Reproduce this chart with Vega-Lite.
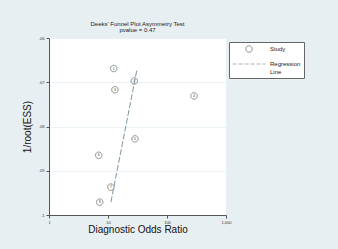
{
  "$schema": "https://vega.github.io/schema/vega-lite/v6.json",
  "width": 177,
  "height": 177,
  "autosize": {"type": "none"},
  "padding": {"left": 49, "top": 38, "right": 112, "bottom": 34},
  "background": "#e8eff2",
  "config": {
    "font": "Liberation Sans",
    "view": {"fill": "white", "stroke": null}
  },
  "title": {
    "text": ["Deeks' Funnel Plot Asymmetry Test", "pvalue =  0.47"],
    "fontSize": 6,
    "fontWeight": "normal",
    "color": "#222",
    "anchor": "middle",
    "offset": 3,
    "lineHeight": 6
  },
  "layer": [
    {
      "data": {"values": [
        {"dor": 12.5, "ess": 0.0669, "study": "Study", "id": "1"},
        {"dor": 27.9, "ess": 0.0697, "study": "Study", "id": "2"},
        {"dor": 13.1, "ess": 0.0717, "study": "Study", "id": "3"},
        {"dor": 287, "ess": 0.0731, "study": "Study", "id": "4"},
        {"dor": 28.7, "ess": 0.0828, "study": "Study", "id": "5"},
        {"dor": 6.96, "ess": 0.0865, "study": "Study", "id": "6"},
        {"dor": 11.2, "ess": 0.0937, "study": "Study", "id": "7"},
        {"dor": 7.23, "ess": 0.0971, "study": "Study", "id": "8"}
      ]},
      "layer": [
        {
          "mark": {"type": "point", "filled": false, "strokeWidth": 0.9},
          "encoding": {
            "x": {
              "field": "dor", "type": "quantitative",
              "scale": {"type": "log", "domain": [1, 1000], "nice": false},
              "axis": {
                "values": [1, 10, 100, 1000],
                "title": "Diagnostic Odds Ratio",
                "titleFontSize": 10,
                "titleFontWeight": "normal",
                "titleColor": "#111",
                "titlePadding": 0,
                "labelFontSize": 4,
                "labelColor": "#333",
                "labelPadding": 2,
                "tickSize": 3,
                "tickColor": "#555",
                "domainColor": "#555",
                "grid": false,
                "labelFlush": false
              }
            },
            "y": {
              "field": "ess", "type": "quantitative",
              "scale": {"domain": [0.06, 0.1], "reverse": true, "nice": false, "zero": false},
              "axis": {
                "values": [0.06, 0.07, 0.08, 0.09, 0.1],
                "labelExpr": "replace(format(datum.value, '.2~f'), '0.', '.')",
                "title": "1/root(ESS)",
                "titleFontSize": 10,
                "titleFontWeight": "normal",
                "titleColor": "#111",
                "titlePadding": 6,
                "labelFontSize": 4,
                "labelColor": "#333",
                "labelPadding": 2,
                "tickSize": 3,
                "tickColor": "#555",
                "domainColor": "#555",
                "grid": true,
                "gridColor": "#e6eff2",
                "gridWidth": 0.8
              }
            },
            "shape": {
              "field": "study", "type": "nominal",
              "scale": {"domain": ["Study", "Regression Line"], "range": ["circle", "M-2,0L2,0"]}
            },
            "strokeDash": {
              "field": "study", "type": "nominal",
              "scale": {"domain": ["Study", "Regression Line"], "range": [[1, 0], [4, 2]]}
            },
            "size": {
              "field": "study", "type": "nominal",
              "scale": {"domain": ["Study", "Regression Line"], "range": [42, 270]}
            },
            "color": {
              "field": "study", "type": "nominal",
              "scale": {"domain": ["Study", "Regression Line"], "range": ["#444444", "#6f8a9a"]},
              "legend": {
                "title": null,
                "orient": "none",
                "legendX": 180,
                "legendY": 4,
                "fillColor": "white",
                "strokeColor": "#666",
                "padding": 3,
                "symbolOffset": 8,
                "symbolStrokeWidth": 0.9,
                "labelFontSize": 6,
                "labelColor": "#222",
                "labelOffset": 12,
                "rowPadding": 0,
                "labelLimit": 60,
                "labelExpr": "datum.label === 'Regression Line' ? ['Regression', 'Line'] : datum.label"
              }
            }
          }
        },
        {
          "mark": {"type": "text", "fontSize": 3.5, "color": "#444", "baseline": "middle", "align": "center"},
          "encoding": {
            "x": {"field": "dor", "type": "quantitative"},
            "y": {"field": "ess", "type": "quantitative"},
            "text": {"field": "id"}
          }
        }
      ]
    },
    {
      "data": {"values": [
        {"dor": 11.2, "ess": 0.0971},
        {"dor": 31.0, "ess": 0.0671}
      ]},
      "mark": {"type": "line", "strokeDash": [6, 2], "strokeWidth": 0.9, "color": "#6f8a9a"},
      "encoding": {
        "x": {"field": "dor", "type": "quantitative"},
        "y": {"field": "ess", "type": "quantitative"}
      }
    }
  ]
}
